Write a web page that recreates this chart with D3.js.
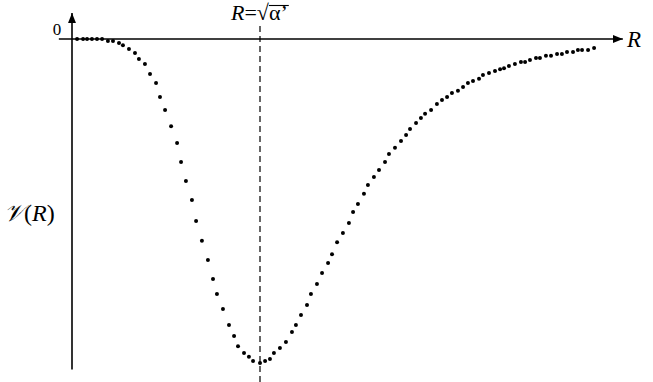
<!doctype html>
<html>
<head>
    <style>
        body { margin: 0; background: #fff; }
        .dot { fill: #000; }
        text { font-family: "Liberation Serif", "DejaVu Serif", serif; fill: #000; }
    </style>
    <script src="https://d3js.org/d3.v7.min.js"></script>
</head>
<body>
<svg width="653" height="382"></svg>
<script>
// R in units of sqrt(alpha'), V in units of the well depth
var rValues = [0.027,0.059,0.080,0.106,0.133,0.160,
    0.191,0.218,0.250,0.271,0.303,0.335,0.356,0.388,0.415,
    0.447,0.468,0.495,0.527,0.559,0.580,0.606,0.638,
    0.660,0.691,0.723,0.750,0.771,0.803,
    0.835,0.862,0.883,0.915,0.941,0.963,1.000,
    1.027,1.053,1.074,1.106,1.138,1.170,1.191,1.218,1.250,
    1.271,1.303,1.330,1.362,1.383,1.410,1.441,1.473,1.495,1.521,1.553,1.574,1.606,1.633,1.665,1.686,
    1.718,1.750,1.777,1.798,1.830,1.856,1.878,1.910,1.941,1.968,1.995,
    2.021,2.053,2.080,2.106,2.133,2.165,2.186,2.218,2.250,2.277,2.298,2.324,2.356,2.388,
    2.410,2.436,2.468,2.489,2.521,2.548,2.580,2.606,2.633,2.665,2.691,2.713,2.745,2.777];
var vValues = [0,0,0,0,0,0,
    -0.006,-0.006,-0.012,-0.019,-0.031,-0.043,-0.062,-0.077,-0.108,
    -0.136,-0.179,-0.219,-0.269,-0.321,-0.380,-0.438,-0.497,
    -0.562,-0.623,-0.682,-0.741,-0.787,-0.833,
    -0.883,-0.917,-0.948,-0.969,-0.981,-0.994,-1.000,
    -0.994,-0.988,-0.969,-0.954,-0.935,-0.904,-0.883,-0.852,-0.821,
    -0.787,-0.756,-0.722,-0.691,-0.664,-0.627,-0.599,-0.568,-0.534,-0.509,-0.478,-0.451,-0.426,-0.404,-0.380,-0.355,
    -0.336,-0.315,-0.296,-0.278,-0.259,-0.244,-0.231,-0.219,-0.201,-0.188,-0.179,
    -0.167,-0.160,-0.148,-0.136,-0.130,-0.123,-0.111,-0.105,-0.099,-0.093,-0.090,-0.083,-0.077,-0.071,
    -0.071,-0.065,-0.059,-0.059,-0.052,-0.052,-0.046,-0.046,-0.040,-0.040,-0.034,-0.034,-0.034,-0.028];
var xRange = [-0.07, 2.93];   // extent of R axis
var yRange = [-1.02, 0.08];   // extent of V axis
var minR = 1.0;               // R = sqrt(alpha')

var svg = d3.select("svg");

let xScale = d3.scaleLinear().domain([0, 1]).range([72, 260]);
let yScale = d3.scaleLinear().domain([-1, 0]).range([363, 39]);

var defs = svg.append("defs");
defs.append("marker")
    .attr("id", "arrow")
    .attr("viewBox", "0 0 10 10")
    .attr("refX", 10).attr("refY", 5)
    .attr("markerWidth", 10).attr("markerHeight", 10)
    .attr("markerUnits", "userSpaceOnUse")
    .attr("orient", "auto")
    .append("path")
    .attr("d", "M0,1 L10,5 L0,9 Z")
    .attr("fill", "#000");

// x axis
svg.append("line")
    .attr("x1", xScale(xRange[0])).attr("x2", xScale(xRange[1]))
    .attr("y1", yScale(0)).attr("y2", yScale(0))
    .attr("stroke", "#000").attr("stroke-width", 1.6)
    .attr("marker-end", "url(#arrow)");

// y axis
svg.append("line")
    .attr("x1", xScale(0)).attr("x2", xScale(0))
    .attr("y1", yScale(yRange[0])).attr("y2", yScale(yRange[1]))
    .attr("stroke", "#000").attr("stroke-width", 1.6)
    .attr("marker-end", "url(#arrow)");

// dashed line at the minimum
svg.append("line")
    .attr("x1", xScale(minR)).attr("x2", xScale(minR))
    .attr("y1", 26).attr("y2", 382)
    .attr("stroke", "#000").attr("stroke-width", 1.2)
    .attr("stroke-dasharray", "6,4");

var data = rValues.map(function(r, i) { return {r: r, v: vValues[i]}; });

svg.selectAll(".dot")
    .data(data)
    .enter().append("circle")
    .attr("class", "dot")
    .attr("cx", function(d) { return xScale(d.r); })
    .attr("cy", function(d) { return yScale(d.v); })
    .attr("r", 2);

// labels
svg.append("text")
    .attr("x", 57).attr("y", 35)
    .style("text-anchor", "middle")
    .style("font-size", "17px")
    .text("0");

svg.append("text")
    .attr("x", 627).attr("y", 47)
    .style("font-size", "23px")
    .style("font-style", "italic")
    .text("R");

var title = svg.append("text")
    .attr("x", 231).attr("y", 20)
    .style("font-size", "22px");
title.append("tspan").style("font-style", "italic").text("R");
title.append("tspan").text("=\u221A\u03B1\u2019");

// bar over alpha' (the radical's vinculum)
var tn = title.node();
var nChars = tn.getNumberOfChars();
var barX0 = tn.getExtentOfChar(nChars - 2).x;
var e = tn.getExtentOfChar(nChars - 1);
svg.append("line")
    .attr("x1", barX0).attr("x2", e.x + e.width + 1)
    .attr("y1", 5.5).attr("y2", 5.5)
    .attr("stroke", "#000").attr("stroke-width", 1.1);

var ylab = svg.append("text")
    .attr("x", 4).attr("y", 221)
    .style("font-size", "24px");
ylab.append("tspan").style("font-style", "italic").text("\uD835\uDCB1");
ylab.append("tspan").text("(");
ylab.append("tspan").style("font-style", "italic").text("R");
ylab.append("tspan").text(")");
</script>
</body>
</html>
